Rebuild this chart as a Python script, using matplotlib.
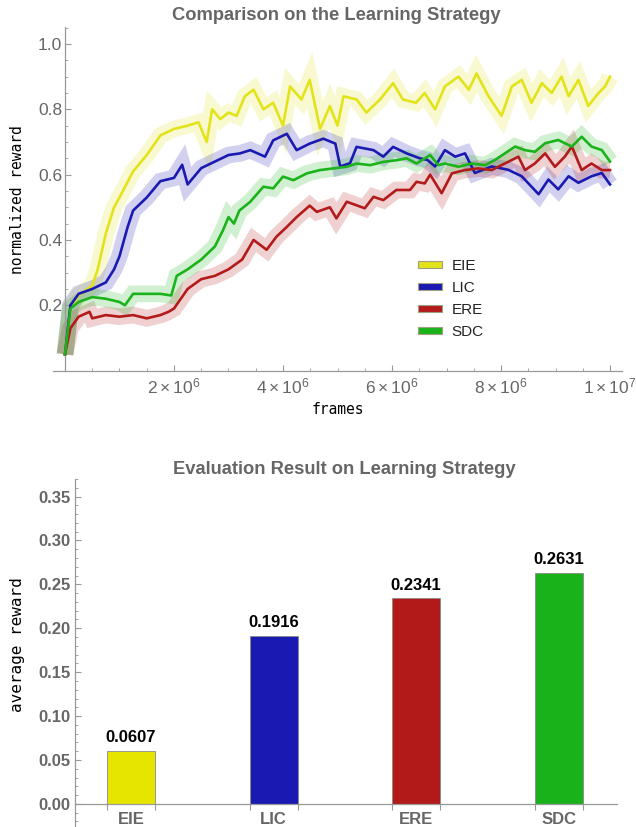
import matplotlib
matplotlib.use("Agg")
import matplotlib.pyplot as plt
from matplotlib.ticker import MultipleLocator, FixedLocator, FuncFormatter
from matplotlib.patches import Patch

plt.rcParams['font.family'] = ['Liberation Sans', 'DejaVu Sans']
plt.rcParams['mathtext.fontset'] = 'custom'
plt.rcParams['mathtext.rm'] = 'Liberation Sans'
plt.rcParams['mathtext.it'] = 'Liberation Sans'

# ---------------- data (frames in units of 1e6) ----------------
series_names = ["EIE", "LIC", "ERE", "SDC"]

eie_x = [0, 0.1, 0.25, 0.5, 0.6, 0.75, 0.9, 1.0, 1.25, 1.5, 1.75, 2.0, 2.25, 2.45, 2.6, 2.7, 2.85, 3.0, 3.15, 3.3,
         3.46, 3.64, 3.82, 4.0, 4.13, 4.34, 4.49, 4.68, 4.86, 5.0, 5.11, 5.35, 5.53, 5.78, 6.02, 6.2, 6.44, 6.6,
         6.79, 6.97, 7.22, 7.41, 7.55, 7.77, 8.01, 8.2, 8.38, 8.56, 8.75, 8.93, 9.11, 9.24, 9.42, 9.6, 9.79, 9.91, 10.0]
eie_y = [0.05, 0.19, 0.23, 0.26, 0.31, 0.42, 0.50, 0.53, 0.61, 0.66, 0.72, 0.74, 0.75, 0.76, 0.70, 0.80, 0.77, 0.79, 0.78, 0.84,
         0.86, 0.80, 0.82, 0.75, 0.87, 0.83, 0.89, 0.74, 0.81, 0.75, 0.84, 0.83, 0.79, 0.83, 0.88, 0.83, 0.82, 0.85,
         0.80, 0.87, 0.90, 0.86, 0.91, 0.84, 0.78, 0.87, 0.89, 0.82, 0.88, 0.85, 0.90, 0.84, 0.89, 0.81, 0.85, 0.87, 0.90]

lic_x = [0, 0.1, 0.25, 0.5, 0.75, 0.9, 1.0, 1.15, 1.25, 1.5, 1.75, 2.0, 2.15, 2.25, 2.5, 2.75, 3.0, 3.21, 3.4, 3.67,
         3.82, 4.07, 4.25, 4.49, 4.74, 4.96, 5.05, 5.23, 5.35, 5.66, 5.84, 6.02, 6.27, 6.51, 6.65, 6.79, 6.97, 7.16,
         7.34, 7.52, 7.83, 8.13, 8.38, 8.69, 8.87, 9.05, 9.24, 9.42, 9.66, 9.85, 10.0]
lic_y = [0.05, 0.20, 0.235, 0.25, 0.27, 0.31, 0.35, 0.44, 0.49, 0.53, 0.58, 0.59, 0.63, 0.57, 0.62, 0.64, 0.66, 0.665, 0.675, 0.655,
         0.705, 0.725, 0.675, 0.695, 0.71, 0.695, 0.625, 0.635, 0.685, 0.675, 0.655, 0.685, 0.665, 0.65, 0.645, 0.625, 0.675, 0.655,
         0.665, 0.605, 0.625, 0.615, 0.595, 0.54, 0.585, 0.555, 0.595, 0.575, 0.595, 0.605, 0.57]

ere_x = [0, 0.1, 0.25, 0.45, 0.5, 0.75, 1.0, 1.25, 1.5, 1.75, 1.9, 2.0, 2.25, 2.5, 2.75, 3.0, 3.25, 3.46, 3.7, 3.88,
         4.07, 4.25, 4.49, 4.62, 4.86, 4.98, 5.17, 5.5, 5.66, 5.84, 6.08, 6.33, 6.45, 6.6, 6.7, 6.91, 7.1, 7.34,
         7.58, 7.83, 8.07, 8.32, 8.44, 8.62, 8.81, 8.99, 9.17, 9.3, 9.48, 9.66, 9.85, 10.0]
ere_y = [0.05, 0.13, 0.165, 0.18, 0.16, 0.17, 0.165, 0.17, 0.16, 0.17, 0.18, 0.19, 0.25, 0.28, 0.29, 0.31, 0.34, 0.40, 0.37, 0.41,
         0.44, 0.47, 0.505, 0.486, 0.50, 0.466, 0.517, 0.497, 0.532, 0.522, 0.553, 0.553, 0.578, 0.573, 0.60, 0.543, 0.604, 0.614,
         0.619, 0.614, 0.634, 0.655, 0.614, 0.634, 0.665, 0.624, 0.655, 0.686, 0.614, 0.634, 0.614, 0.614]

sdc_x = [0, 0.1, 0.25, 0.5, 0.75, 1.0, 1.1, 1.25, 1.5, 1.75, 1.95, 2.05, 2.25, 2.5, 2.75, 2.9, 3.0, 3.1, 3.2, 3.4,
         3.64, 3.82, 4.0, 4.19, 4.44, 4.68, 4.92, 5.17, 5.35, 5.6, 5.84, 6.08, 6.27, 6.45, 6.7, 6.85, 6.97, 7.22,
         7.46, 7.71, 7.89, 8.07, 8.26, 8.44, 8.62, 8.81, 9.05, 9.3, 9.48, 9.66, 9.85, 10.0]
sdc_y = [0.05, 0.19, 0.21, 0.225, 0.22, 0.21, 0.20, 0.235, 0.235, 0.235, 0.23, 0.29, 0.31, 0.34, 0.38, 0.43, 0.47, 0.45, 0.49, 0.517,
         0.563, 0.558, 0.594, 0.583, 0.604, 0.614, 0.619, 0.624, 0.634, 0.629, 0.639, 0.644, 0.65, 0.634, 0.66, 0.629, 0.634, 0.624,
         0.634, 0.629, 0.645, 0.665, 0.686, 0.675, 0.67, 0.696, 0.706, 0.686, 0.716, 0.686, 0.675, 0.64]

bar_categories = ["EIE", "LIC", "ERE", "SDC"]
bar_values = [0.0607, 0.1916, 0.2341, 0.2631]

x_tick_values = [2, 4, 6, 8, 10]
x_tick_labels = [r"$2\times10^{6}$", r"$4\times10^{6}$", r"$6\times10^{6}$", r"$8\times10^{6}$", r"$1\times10^{7}$"]

# ---------------- style ----------------
colors = ["#e3e31a", "#1a1ab3", "#b31a1a", "#1ab31a"]
bar_colors = ["#e5e500", "#1a1ab2", "#b21a1a", "#1ab21a"]
axis_gray = "#999999"
text_gray = "#666666"

W, H = 636, 827
fig = plt.figure(figsize=(W / 100, H / 100), dpi=100)

def fx(px):
    return px / W

def fy(py):
    return 1 - py / H

# ---------------- top plot ----------------
ax1 = fig.add_axes([fx(53), fy(370.6), fx(622) - fx(53), fy(27) - fy(370.6)])
series = [(eie_x, eie_y), (lic_x, lic_y), (ere_x, ere_y), (sdc_x, sdc_y)]
for (xs, ys), c in zip(series, colors):
    ax1.plot([v * 1e6 for v in xs], ys, color=c, lw=12, alpha=0.2, solid_joinstyle='miter',
             solid_capstyle='butt', zorder=1)
for (xs, ys), c in zip(series, colors):
    ax1.plot([v * 1e6 for v in xs], ys, color=c, lw=1.9, zorder=3)

ax1.set_xlim(-0.22e6, 10.22e6)
ax1.set_ylim(0, 1.052)
for s in ["top", "right"]:
    ax1.spines[s].set_visible(False)
ax1.spines["left"].set_position(("data", 0))
ax1.spines["bottom"].set_position(("data", 0))
for s in ["left", "bottom"]:
    ax1.spines[s].set_color(axis_gray)
    ax1.spines[s].set_linewidth(0.9)

ax1.xaxis.set_major_locator(FixedLocator([v * 1e6 for v in x_tick_values]))
ax1.set_xticklabels(x_tick_labels)
ax1.xaxis.set_minor_locator(MultipleLocator(0.5e6))
ax1.yaxis.set_major_locator(FixedLocator([0.2, 0.4, 0.6, 0.8, 1.0]))
ax1.yaxis.set_major_formatter(FuncFormatter(lambda v, p: f"{v:.1f}"))
ax1.yaxis.set_minor_locator(MultipleLocator(0.05))
ax1.tick_params(which="both", direction="in", colors=axis_gray, labelcolor=text_gray)
ax1.tick_params(which="major", length=4.5, width=0.8, labelsize=12.5)
ax1.tick_params(which="minor", length=2.5, width=0.6)
ax1.tick_params(axis="y", pad=2)
ax1.tick_params(axis="x", pad=4)

leg_handles = [Patch(facecolor=c, edgecolor="#a0a080", linewidth=0.8) for c in colors]
leg = fig.legend(leg_handles, series_names, loc="upper left", bbox_to_anchor=(fx(418), fy(259)),
                 frameon=False, fontsize=11, handlelength=1.6, handleheight=0.4, handletextpad=0.6,
                 labelspacing=0.52, borderpad=0, borderaxespad=0)
for t in leg.get_texts():
    t.set_color("#222222")

fig.text(fx(336.5), fy(16), "Comparison on the Learning Strategy", ha="center", va="center",
         fontsize=13.2, fontweight="bold", color=text_gray)
fig.text(fx(338), fy(410), "frames", ha="center", va="center", fontsize=10.5,
         family="DejaVu Sans Mono", color="black")
fig.text(fx(18), fy(200), "normalized reward", ha="center", va="center", rotation=90,
         fontsize=10.5, family="DejaVu Sans Mono", color="black")

# ---------------- bottom plot ----------------
ax2 = fig.add_axes([fx(75), fy(826.7), fx(617) - fx(75), fy(479) - fy(826.7)])
positions = list(range(1, len(bar_categories) + 1))
bar_w = 0.337
bars = ax2.bar(positions, bar_values, width=bar_w, color=bar_colors, edgecolor="#8a8a8a", linewidth=0.6, zorder=2)
for b, v in zip(bars, bar_values):
    ax2.annotate(f"{v:.4f}", (b.get_x() + b.get_width() / 2, v), xytext=(0, 4), textcoords="offset points",
                 ha="center", va="bottom", fontsize=12, fontweight="bold", color="black")

ax2.set_xlim(0.607, 4.41)
ax2.set_ylim(-0.026, 0.37)
for s in ["top", "right"]:
    ax2.spines[s].set_visible(False)
ax2.spines["bottom"].set_position(("data", 0))
for s in ["left", "bottom"]:
    ax2.spines[s].set_color(axis_gray)
    ax2.spines[s].set_linewidth(0.9)
ax2.set_xticks(positions)
ax2.set_xticklabels(bar_categories)
edges = []
for p in positions:
    edges += [p - bar_w / 2, p + bar_w / 2]
ax2.xaxis.set_minor_locator(FixedLocator(edges))
ax2.tick_params(axis="x", which="major", length=0, pad=6, labelsize=12, labelcolor=text_gray)
ax2.tick_params(axis="x", which="minor", direction="out", length=4.5, width=0.8, colors=axis_gray)
for lab in ax2.get_xticklabels():
    lab.set_fontweight("bold")

ax2.yaxis.set_major_locator(FixedLocator([0.0, 0.05, 0.10, 0.15, 0.20, 0.25, 0.30, 0.35]))
ax2.yaxis.set_major_formatter(FuncFormatter(lambda v, p: f"{v:.2f}"))
ax2.yaxis.set_minor_locator(MultipleLocator(0.01))
ax2.tick_params(axis="y", which="both", direction="in", colors=axis_gray, labelcolor=text_gray)
ax2.tick_params(axis="y", which="major", length=4.5, width=0.8, labelsize=12, pad=3)
ax2.tick_params(axis="y", which="minor", length=2.5, width=0.6)
for lab in ax2.get_yticklabels():
    lab.set_fontweight("bold")

fig.text(fx(344), fy(469), "Evaluation Result on Learning Strategy", ha="center", va="center",
         fontsize=13.2, fontweight="bold", color=text_gray)
fig.text(fx(18), fy(645), "average reward", ha="center", va="center", rotation=90,
         fontsize=11.5, family="DejaVu Sans Mono", color="black")

fig.savefig("out.png", dpi=100)
